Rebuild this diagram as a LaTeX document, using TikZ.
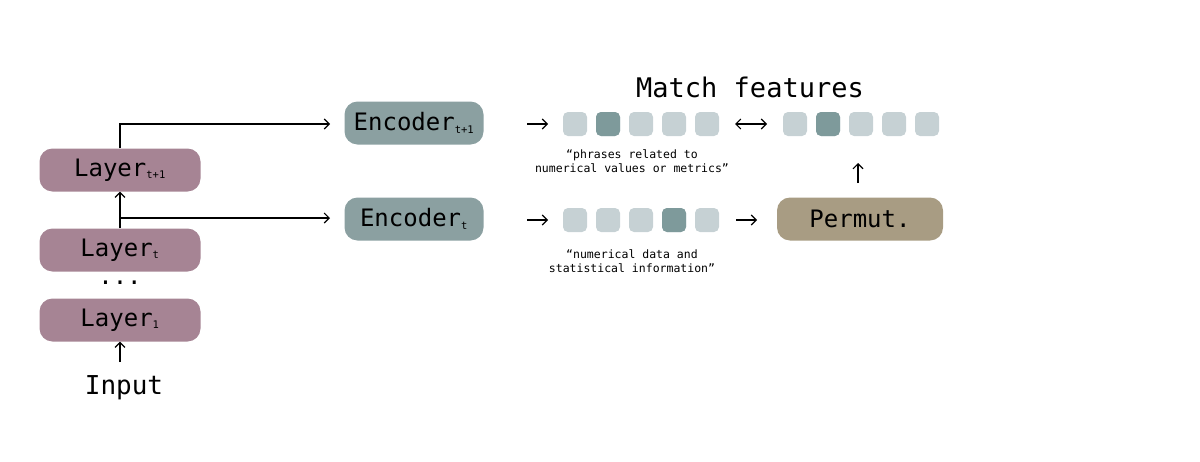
\documentclass[tikz,border=0pt]{standalone}
\usepackage{fontspec}
\setmainfont{DejaVu Sans Mono}
\usetikzlibrary{arrows.meta}
\definecolor{lay}{HTML}{A68494}
\definecolor{enc}{HTML}{8BA0A1}
\definecolor{perm}{HTML}{A89C83}
\definecolor{sqL}{HTML}{C6D1D4}
\definecolor{sqD}{HTML}{7E9A9B}
\begin{document}
\begin{tikzpicture}[x=1pt,y=-1pt,
  box/.style={rounded corners=13pt,minimum height=43pt,inner sep=0pt,font=\fontsize{24}{26}\selectfont},
  layer/.style={box,fill=lay,minimum width=161pt},
  encs/.style={box,fill=enc,minimum width=139pt},
  sq/.style={rounded corners=5pt,minimum size=24pt,inner sep=0pt,fill=sqL},
  dk/.style={fill=sqD},
  arr/.style={-{Straight Barb[length=5pt,width=10pt]},line width=1.1pt},
  captxt/.style={font=\fontsize{11.5}{14}\selectfont,align=center}]
\useasboundingbox (0,0) rectangle (1200,461);
\node[layer] (l2) at (120,170) {Layer{\fontsize{15}{15}\selectfont\textsubscript{t+1}}};
\node[layer] (lt) at (120,250) {Layer{\fontsize{15}{15}\selectfont\textsubscript{t}}};
\node[font=\fontsize{24}{26}\selectfont] (dots) at (120,283) {...};
\node[layer] (l1) at (120,320) {Layer{\fontsize{15}{15}\selectfont\textsubscript{1}}};
\node[font=\fontsize{26}{28}\selectfont] (in) at (124,388) {Input};
\node[encs] (e2) at (414,123) {Encoder{\fontsize{15}{15}\selectfont\textsubscript{t+1}}};
\node[encs] (e1) at (414,219) {Encoder{\fontsize{15}{15}\selectfont\textsubscript{t}}};
\node[box,fill=perm,minimum width=166pt] (pm) at (860,219) {Permut.};
\node[font=\fontsize{27}{29}\selectfont] (mf) at (750,87) {Match features};
\foreach \i/\x in {1/575,2/608,3/641,4/674,5/707}{
  \node[sq] (a\i) at (\x,124) {};
  \node[sq] (b\i) at (\x,220) {};
}
\foreach \i/\x in {1/795,2/828,3/861,4/894,5/927}{
  \node[sq] (c\i) at (\x,124) {};
}
\node[sq,dk] at (a2) {};
\node[sq,dk] at (b4) {};
\node[sq,dk] at (c2) {};
\node[captxt] (ca) at (632,161) {“phrases related to\\numerical values or metrics”};
\node[captxt] (cb) at (632,261) {“numerical data and\\statistical information”};
\coordinate (st) at (120,362);
\draw[arr] (st) -- (l1.south);
\draw[arr] (lt.north) -- (l2.south);
\coordinate (j1) at (120,218);
\coordinate (e1w) at (330,218);
\coordinate (e2w) at (330,124);
\draw[arr] (j1) -- (e1w);
\draw[arr] (l2.north) |- (e2w);
\draw[arr] (527,124) -- (548,124);
\draw[arr] (527,220) -- (548,220);
\draw[arr] (736,220) -- (757,220);
\draw[{Straight Barb[length=5pt,width=10pt]}-{Straight Barb[length=5pt,width=10pt]},line width=1.1pt] (735,124) -- (767,124);
\draw[arr] (858,183) -- (858,163);
\end{tikzpicture}
\end{document}
